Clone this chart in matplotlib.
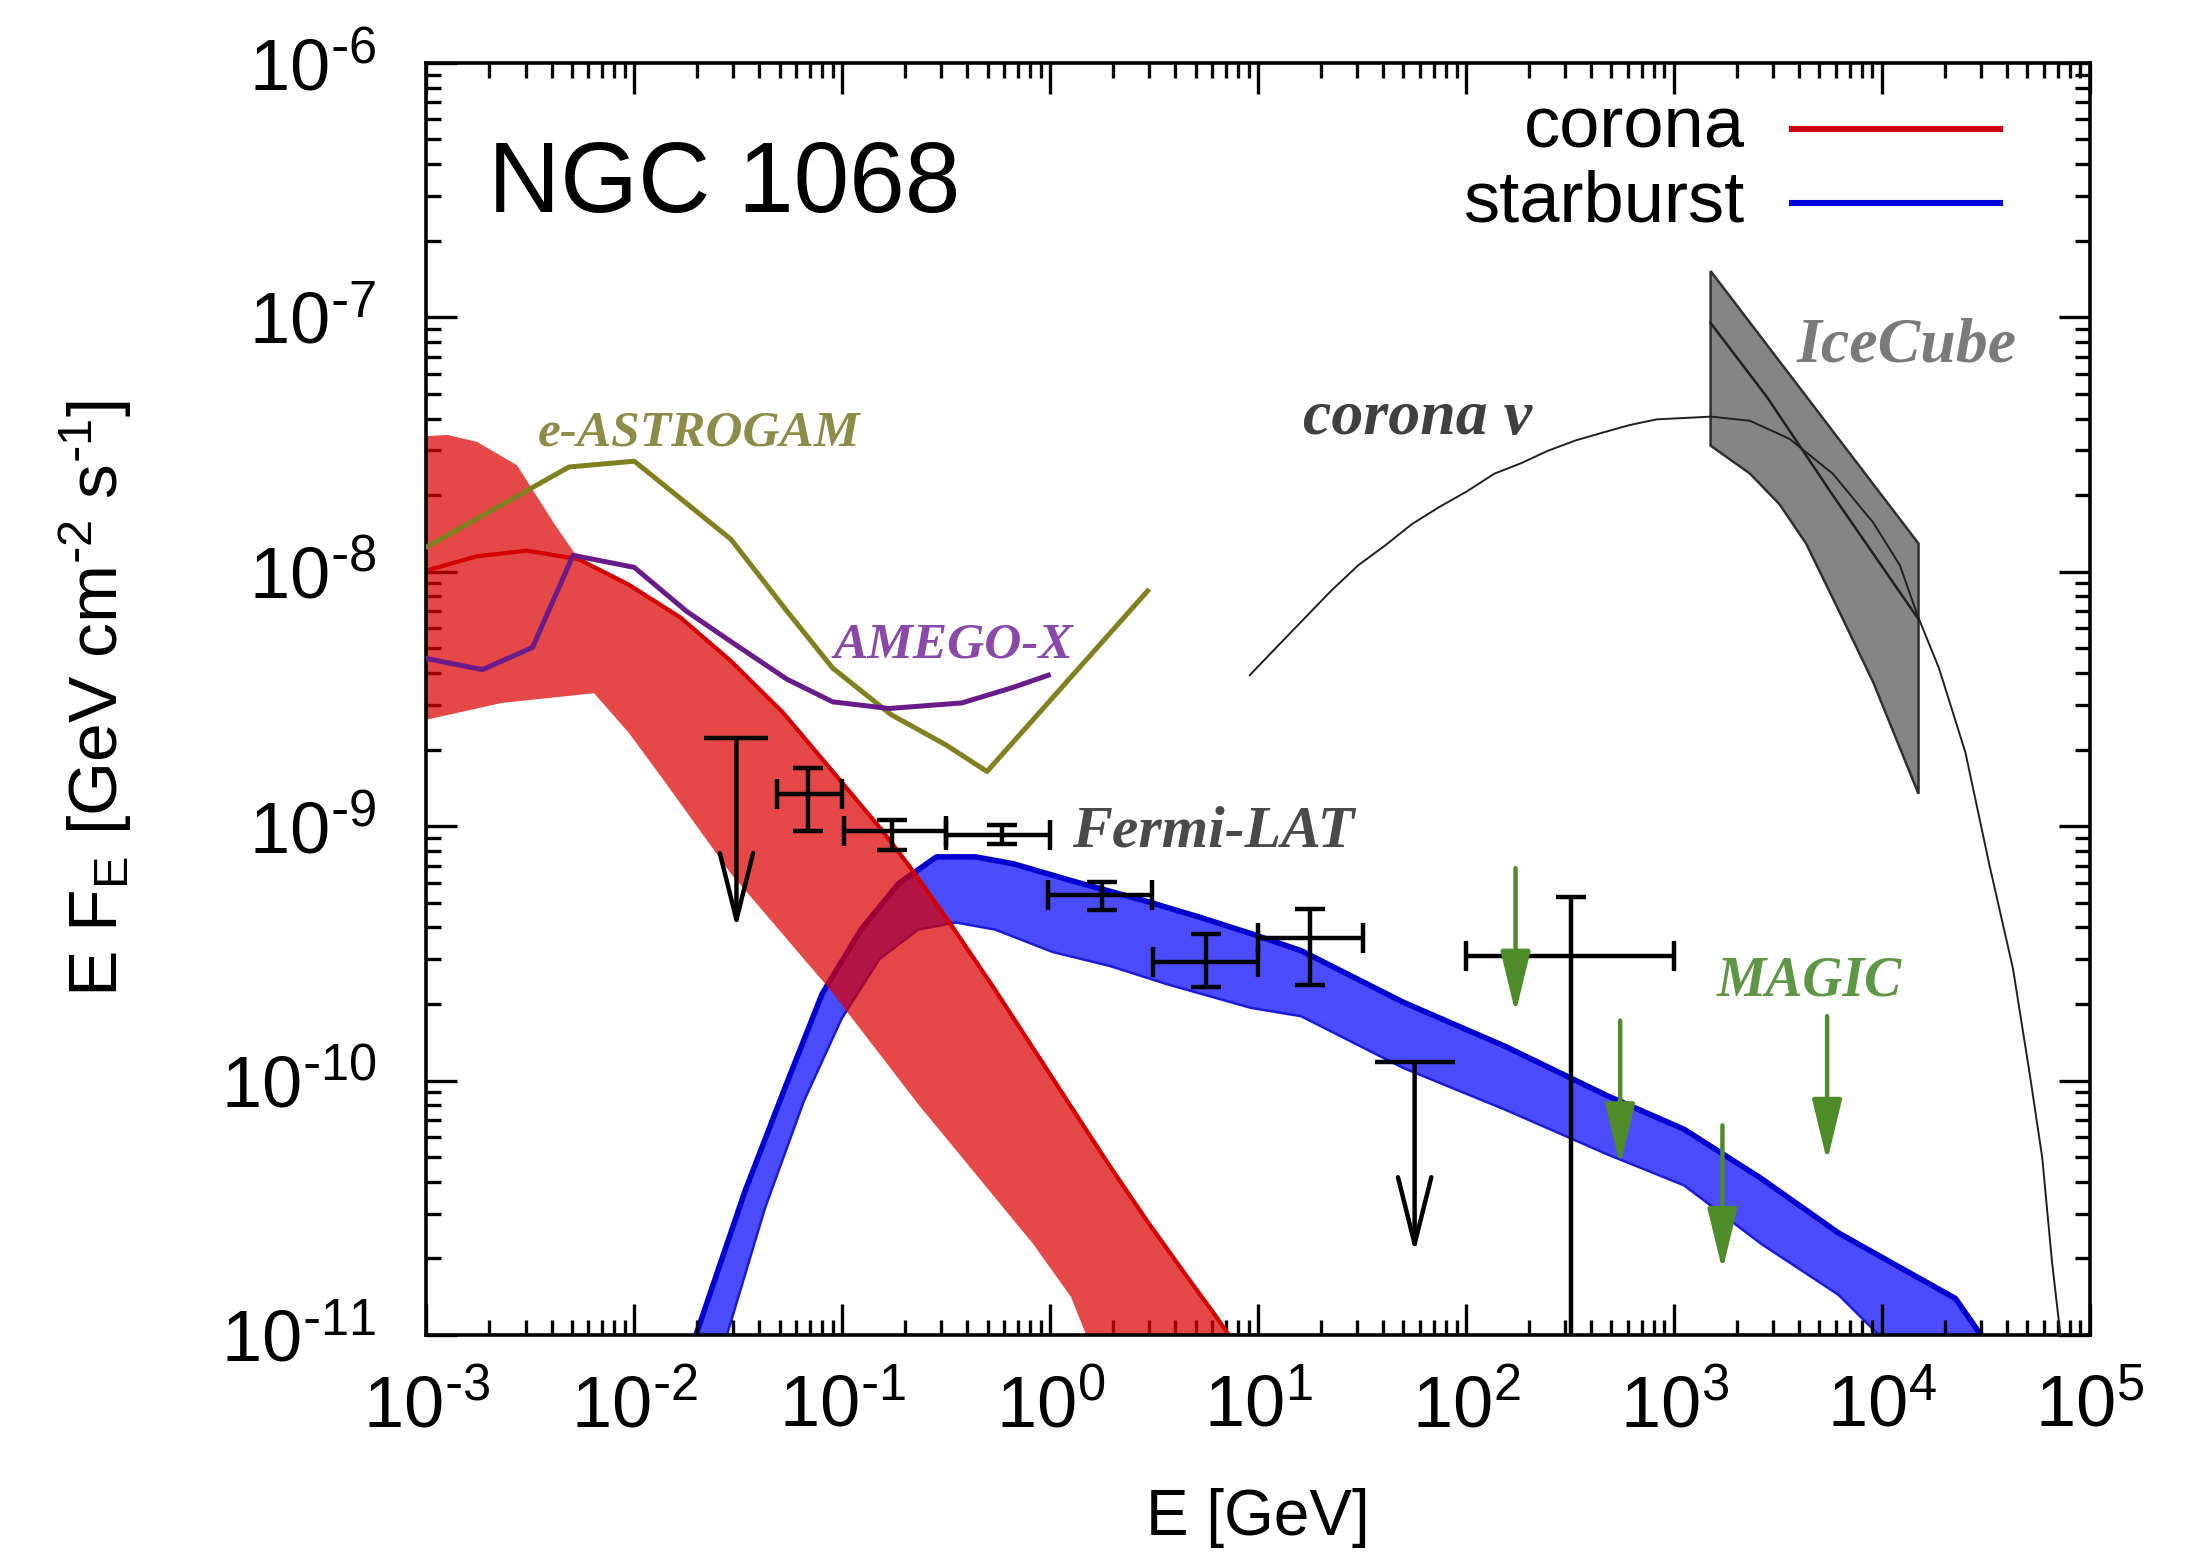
import numpy as np
import matplotlib
matplotlib.use('Agg')
import matplotlib.pyplot as plt
from matplotlib.ticker import LogLocator, NullFormatter, FuncFormatter, FixedLocator
from matplotlib.lines import Line2D

plt.rcParams['font.family'] = 'Liberation Sans'
plt.rcParams['mathtext.default'] = 'regular'
plt.rcParams['axes.unicode_minus'] = False

# --- corona gamma-ray model: E [GeV], E F_E [GeV cm^-2 s^-1] ---
corona_E = [1.0e-3, 1.75e-3, 3.05e-3, 5.4e-3, 9.4e-3, 1.67e-2, 2.92e-2, 5.2e-2, 9.0e-2, 0.156,
            0.212, 0.327, 0.544, 0.828, 1.26, 1.94, 2.94, 4.54, 6.29, 8.3]
corona_F = [1.01e-8, 1.15e-8, 1.21e-8, 1.12e-8, 8.9e-9, 6.6e-9, 4.45e-9, 2.79e-9, 1.64e-9, 9.6e-10,
            6.9e-10, 4.2e-10, 2.27e-10, 1.34e-10, 7.9e-11, 4.6e-11, 2.79e-11, 1.70e-11, 1.18e-11, 8.5e-12]

# upper envelope below ~5 MeV (above that it follows the model line)
corona_hi_E = [1.0e-3, 1.26e-3, 1.75e-3, 2.73e-3, 4.09e-3]
corona_hi_F = [3.41e-8, 3.45e-8, 3.24e-8, 2.62e-8, 1.56e-8]

corona_lo_E = [1.0e-3, 2.31e-3, 6.41e-3, 9.4e-3, 1.35e-2, 2.92e-2, 8.77e-2, 0.232, 0.828, 1.26, 1.49, 1.69]
corona_lo_F = [2.62e-9, 3.05e-9, 3.33e-9, 2.33e-9, 1.56e-9, 6.5e-10, 2.27e-10, 8.07e-11, 2.28e-11,
               1.41e-11, 1.0e-11, 8.5e-12]

# --- starburst band ---
sb_up_E = [1.81e-2, 1.98e-2, 3.41e-2, 5.26e-2, 8.0e-2, 0.123, 0.187, 0.284, 0.439, 0.667, 1.26, 2.94,
           5.22, 9.25, 16.1, 50.0, 155, 480, 1.12e3, 2.63e3, 6.17e3, 1.42e4, 2.26e4, 2.99e4, 3.28e4]
sb_up_F = [7.8e-12, 1.0e-11, 3.68e-11, 9.2e-11, 2.19e-10, 3.92e-10, 5.96e-10, 7.57e-10, 7.57e-10,
           7.11e-10, 6.11e-10, 5.05e-10, 4.39e-10, 3.78e-10, 3.24e-10, 2.03e-10, 1.36e-10, 8.7e-11,
           6.43e-11, 4.12e-11, 2.52e-11, 1.72e-11, 1.39e-11, 1.0e-11, 7.8e-12]
sb_lo_E = [2.54e-2, 2.79e-2, 4.24e-2, 6.53e-2, 9.93e-2, 0.151, 0.232, 0.353, 0.544, 1.03, 1.94, 3.66,
           9.25, 16.1, 50.0, 155, 480, 1.12e3, 2.63e3, 6.17e3, 9.66e3, 1.06e4]
sb_lo_F = [7.8e-12, 1.0e-11, 3.13e-11, 8.28e-11, 1.75e-10, 3.0e-10, 3.92e-10, 4.18e-10, 3.92e-10,
           3.2e-10, 2.82e-10, 2.39e-10, 1.93e-10, 1.79e-10, 1.12e-10, 7.67e-11, 5.12e-11, 3.87e-11,
           2.28e-11, 1.44e-11, 1.0e-11, 7.8e-12]

# --- MeV instrument sensitivities ---
eastro_E = [1.0e-3, 4.85e-3, 1.0e-2, 2.92e-2, 5.42e-2, 9.0e-2, 0.171, 0.317, 0.497, 2.94]
eastro_F = [1.25e-8, 2.58e-8, 2.72e-8, 1.34e-8, 7.0e-9, 4.18e-9, 2.75e-9, 2.08e-9, 1.64e-9, 8.4e-9]

amego_E = [1.0e-3, 1.86e-3, 3.24e-3, 5.08e-3, 1.0e-2, 1.78e-2, 2.92e-2, 5.42e-2, 9.0e-2, 0.168,
           0.376, 0.656, 0.98]
amego_F = [4.56e-9, 4.12e-9, 5.04e-9, 1.16e-8, 1.04e-8, 7.0e-9, 5.31e-9, 3.78e-9, 3.08e-9, 2.90e-9,
           3.05e-9, 3.50e-9, 3.92e-9]

# --- Fermi-LAT ---
fermi_E = [6.84e-2, 0.173, 0.589, 1.77, 5.64, 17.7, 321]
fermi_E_lo = [4.86e-2, 0.102, 0.317, 0.98, 3.13, 10.0, 100]
fermi_E_hi = [9.93e-2, 0.317, 0.995, 3.08, 10.0, 31.9, 1000]
fermi_F = [1.34e-9, 9.6e-10, 9.27e-10, 5.38e-10, 2.93e-10, 3.63e-10, 3.08e-10]
fermi_F_lo = [9.6e-10, 8.07e-10, 8.5e-10, 4.68e-10, 2.33e-10, 2.37e-10, 1e-13]
fermi_F_hi = [1.70e-9, 1.06e-9, 1.01e-9, 6.03e-10, 3.78e-10, 4.74e-10, 5.25e-10]

fermi_ul_E = [3.1e-2, 56.6]
fermi_ul_F = [2.22e-9, 1.18e-10]

# --- MAGIC upper limits ---
magic_E = [173, 551, 1.71e3, 5.45e3]
magic_F = [6.84e-10, 1.72e-10, 6.67e-11, 1.79e-10]

# --- IceCube neutrino band ---
ic_hi_E = [1.5e3, 1.5e4]
ic_hi_F = [1.52e-7, 1.29e-8]
ic_mid_E = [1.5e3, 2.8e3, 5.8e3, 1.5e4]
ic_mid_F = [9.5e-8, 4.86e-8, 2.0e-8, 6.5e-9]
ic_lo_E = [1.5e3, 2.32e3, 3.22e3, 4.32e3, 6.26e3, 9.08e3, 1.5e4]
ic_lo_F = [3.13e-8, 2.43e-8, 1.84e-8, 1.29e-8, 6.93e-9, 3.68e-9, 1.34e-9]

# --- corona neutrino model ---
nu_E = [9.12, 12.3, 16.6, 22.4, 30.3, 40.9, 55.0, 74.7, 101, 137, 184, 248, 336, 453, 611, 824,
        1.51e3, 2.32e3, 3.59e3, 5.8e3, 9.08e3, 1.22e4, 1.49e4, 1.88e4, 2.52e4, 3.28e4, 4.27e4,
        5.14e4, 5.9e4, 6.58e4, 7.22e4, 7.57e4]
nu_F = [3.92e-9, 5.06e-9, 6.52e-9, 8.4e-9, 1.06e-8, 1.27e-8, 1.54e-8, 1.80e-8, 2.07e-8, 2.43e-8,
        2.67e-8, 2.99e-8, 3.28e-8, 3.52e-8, 3.77e-8, 3.97e-8, 4.07e-8, 3.92e-8, 3.33e-8, 2.43e-8,
        1.56e-8, 1.06e-8, 6.67e-9, 4.18e-9, 1.95e-9, 7.1e-10, 2.75e-10, 1.06e-10, 4.99e-11,
        1.93e-11, 1.0e-11, 6.4e-12]

# arrow lengths of the upper limits (in decades)
UL_DROP_FERMI = 10 ** -0.75
UL_DROP_MAGIC = 10 ** -0.57


def pow10_label(v, pos):
    e = int(round(np.log10(v)))
    if e < 0:
        return r'$10^{\text{-}%d}$' % (-e)
    return r'$10^{%d}$' % e


fig = plt.figure(figsize=(10.96, 7.765), dpi=200)
ax = fig.add_axes([0.1945, 0.1404, 0.7589, 0.8191])
ax.set_xscale('log')
ax.set_yscale('log')
ax.set_xlim(1e-3, 1e5)
ax.set_ylim(1e-11, 1e-6)

# starburst band
sb_poly_E = list(sb_up_E) + list(sb_lo_E[::-1])
sb_poly_F = list(sb_up_F) + list(sb_lo_F[::-1])
ax.fill(sb_poly_E, sb_poly_F, color='#0000ff', alpha=0.7, lw=0, zorder=1)
ax.plot(sb_up_E, sb_up_F, color='#0000d0', lw=2.0, zorder=1.2)
ax.plot(sb_lo_E, sb_lo_F, color='#1a1ad8', lw=0.9, zorder=1.2)

# corona band, drawn over the starburst band
c_E = np.array(corona_E)
c_F = np.array(corona_F)
tail = c_E > corona_hi_E[-1]
co_poly_E = list(corona_hi_E) + list(c_E[tail]) + list(corona_lo_E[::-1])
co_poly_F = list(corona_hi_F) + list(c_F[tail]) + list(corona_lo_F[::-1])
ax.fill(co_poly_E, co_poly_F, color='#dd0000', alpha=0.72, lw=0, zorder=2)
ax.plot(corona_E, corona_F, color='#d40000', lw=1.5, zorder=2.5)

# sensitivities
ax.plot(eastro_E, eastro_F, color='#808020', lw=1.8, zorder=3)
ax.plot(amego_E, amego_F, color='#6a1b8a', lw=1.8, zorder=3)

# IceCube band and neutrino model
ic_poly_E = list(ic_hi_E) + list(ic_lo_E[::-1])
ic_poly_F = list(ic_hi_F) + list(ic_lo_F[::-1])
ax.fill(ic_poly_E, ic_poly_F, facecolor='#858585', edgecolor='#303030', lw=0.9, zorder=3)
ax.plot(ic_mid_E, ic_mid_F, color='#202020', lw=0.9, zorder=3.2)
ax.plot(nu_E, nu_F, color='#202020', lw=0.7, zorder=3.3)

# Fermi-LAT points
fE = np.array(fermi_E)
fF = np.array(fermi_F)
ax.errorbar(fE, fF,
            xerr=[fE - np.array(fermi_E_lo), np.array(fermi_E_hi) - fE],
            yerr=[fF - np.array(fermi_F_lo), np.array(fermi_F_hi) - fF],
            fmt='none', ecolor='black', elinewidth=1.6, capsize=5.5, capthick=1.6, zorder=4)

ul_cap_pts = [23, 29]
for e, f, cap in zip(fermi_ul_E, fermi_ul_F, ul_cap_pts):
    ax.plot([e], [f], ls='none', marker='_', ms=cap, mew=1.6, color='black', zorder=4)
    ax.annotate('', xy=(e, f * UL_DROP_FERMI), xytext=(e, f),
                arrowprops=dict(arrowstyle='->,head_length=1.2,head_width=0.3', color='black',
                                lw=1.6, shrinkA=0, shrinkB=0, mutation_scale=20), zorder=4)

for e, f in zip(magic_E, magic_F):
    ax.annotate('', xy=(e, f * UL_DROP_MAGIC), xytext=(e, f),
                arrowprops=dict(arrowstyle='-|>,head_length=0.95,head_width=0.23', color='#4e8c2a',
                                lw=1.6, shrinkA=0, shrinkB=0, mutation_scale=20), zorder=4)

# labels inside the plot
lab = dict(family='Liberation Serif', weight='bold', style='italic', transform=ax.transAxes,
           ha='left', va='center')
ax.text(0.067, 0.709, 'e-ASTROGAM', color='#8c8c48', fontsize=18.5, **lab)
ax.text(0.245, 0.542, 'AMEGO-X', color='#8a48a8', fontsize=18.5, **lab)
ax.text(0.388, 0.395, 'Fermi-LAT', color='#4a4a4a', fontsize=21.5, **lab)
ax.text(0.824, 0.777, 'IceCube', color='#7a7a7a', fontsize=23, **lab)
ax.text(0.527, 0.720, 'corona \u03bd', color='#404040', fontsize=23, **lab)
ax.text(0.776, 0.278, 'MAGIC', color='#5e9645', fontsize=20, **lab)
ax.text(0.037, 0.903, 'NGC 1068', fontsize=36, transform=ax.transAxes, ha='left', va='center')

# key
for fy, name, col in [(0.948, 'corona', '#cc0010'), (0.890, 'starburst', '#0000dd')]:
    ax.text(0.7924, fy, name, fontsize=26, transform=ax.transAxes, ha='right', va='center')
    ax.add_line(Line2D([0.821, 0.946], [fy, fy], color=col, lw=2.2, transform=ax.transAxes))

# axes styling
for sp in ax.spines.values():
    sp.set_linewidth(1.3)
ax.xaxis.set_major_locator(FixedLocator(10.0 ** np.arange(-3, 6)))
ax.yaxis.set_major_locator(FixedLocator(10.0 ** np.arange(-11, -5)))
for axis in (ax.xaxis, ax.yaxis):
    axis.set_major_formatter(FuncFormatter(pow10_label))
    axis.set_minor_locator(LogLocator(base=10, subs=np.arange(2, 10), numticks=100))
    axis.set_minor_formatter(NullFormatter())
ax.tick_params(which='both', direction='in', top=True, right=True, width=1.2)
ax.tick_params(which='major', length=11, labelsize=26)
ax.tick_params(which='minor', length=5.5)
ax.tick_params(axis='x', which='major', pad=14)
ax.tick_params(axis='y', which='major', pad=18)

ax.set_xlabel('E [GeV]', fontsize=23)
ax.set_ylabel(r'E F$_E$ [GeV cm$^{\text{-}2}$ s$^{\text{-}1}$]', fontsize=25)
ax.xaxis.set_label_coords(0.5, -0.12)
ax.yaxis.set_label_coords(-0.176, 0.5)

fig.savefig('out.png', dpi=200)
